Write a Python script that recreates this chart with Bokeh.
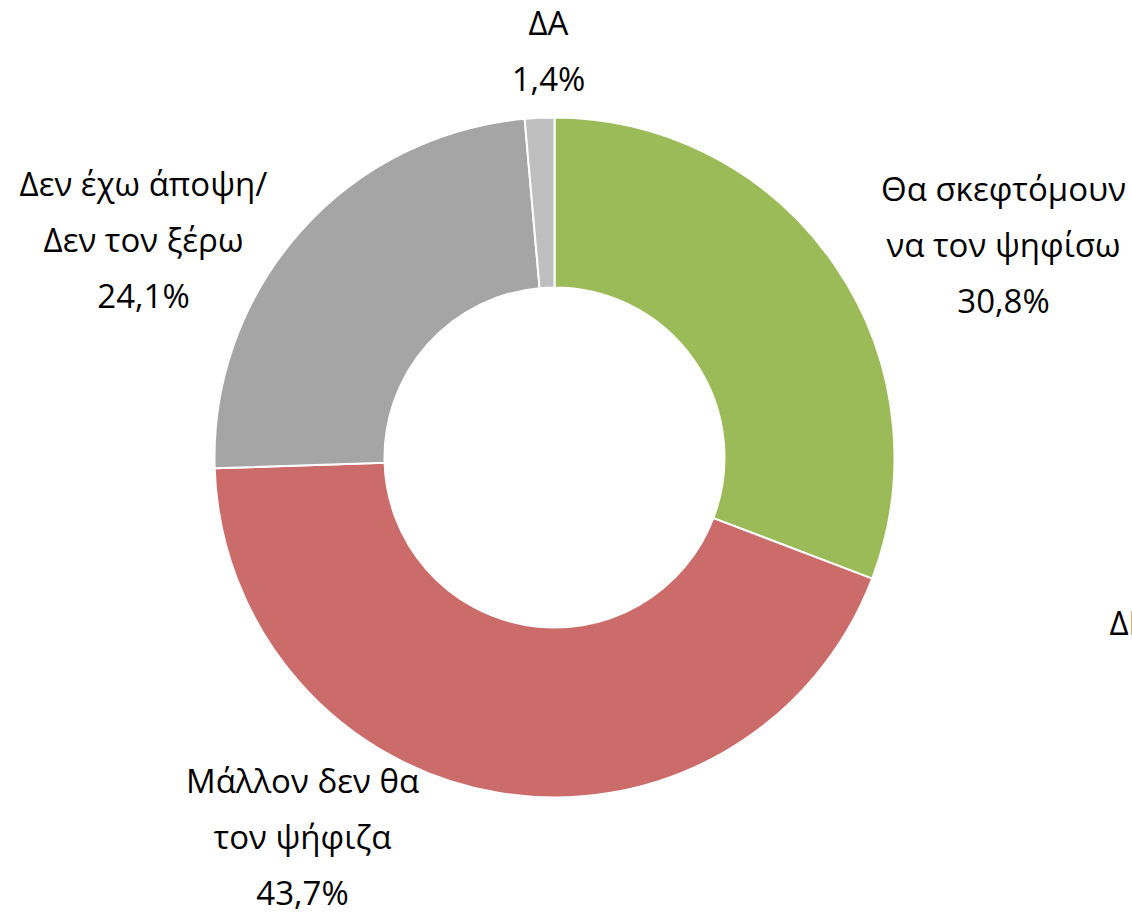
import math
from bokeh.plotting import figure
from bokeh.models import Range1d, ColumnDataSource
from bokeh.core.properties import value
from bokeh.embed import file_html
from bokeh.resources import INLINE

# ---- data ----
categories = ["Θα σκεφτόμουν να τον ψηφίσω", "Μάλλον δεν θα τον ψήφιζα",
              "Δεν έχω άποψη/ Δεν τον ξέρω", "ΔΑ"]
values = [30.8, 43.7, 24.1, 1.4]
pct_labels = ["30,8%", "43,7%", "24,1%", "1,4%"]
name_lines = [["Θα σκεφτόμουν", "να τον ψηφίσω"],
              ["Μάλλον δεν θα", "τον ψήφιζα"],
              ["Δεν έχω άποψη/", "Δεν τον ξέρω"],
              ["ΔΑ"]]
colors = ["#9BBB59", "#CB6C6A", "#A5A5A5", "#BFBFBF"]

# ---- layout (picture-pixel coordinates) ----
W, H = 1132, 912
CX, CY = 554, 457
R_OUT, R_IN = 340, 170
# label anchor (center x, first line center y)
label_pos = [(1003, 188), (302, 780), (143, 183), (548, 22)]
LINE_GAP = 56

def sy(y):
    return H - y

p = figure(width=W, height=H, output_backend="svg", toolbar_location=None,
           x_range=Range1d(0, W), y_range=Range1d(0, H),
           x_axis_location=None, y_axis_location=None, min_border=0)
p.grid.visible = False
p.outline_line_color = None
p.background_fill_color = "white"
p.border_fill_color = "white"

total = sum(values)
starts, ends = [], []
cum = 0.0
for v in values:
    a0 = math.pi / 2 - 2 * math.pi * cum / total
    cum += v
    a1 = math.pi / 2 - 2 * math.pi * cum / total
    starts.append(a0)
    ends.append(a1)

src = ColumnDataSource(dict(x=[CX] * len(values), y=[sy(CY)] * len(values),
                            start=starts, end=ends, color=colors, cat=categories))
p.annular_wedge(x="x", y="y", inner_radius=R_IN, outer_radius=R_OUT,
                inner_radius_units="screen", outer_radius_units="screen",
                start_angle="start", end_angle="end", direction="clock",
                fill_color="color", line_color="white", line_width=2, source=src)

tx, ty, tt = [], [], []
for (lx, ly), lines, pl in zip(label_pos, name_lines, pct_labels):
    for i, ln in enumerate(lines + [pl]):
        tx.append(lx)
        ty.append(sy(ly + i * LINE_GAP))
        tt.append(ln)

p.text(x=tx, y=ty, text=tt, text_align="center", text_baseline="middle",
       text_font=value("Open Sans"), text_font_size="33px", text_color="#000000")

# partially visible label of the neighbouring chart at the right edge
p.text(x=[1109], y=[sy(622)], text=["ΔΕ"], text_align="left", text_baseline="middle",
       text_font=value("Open Sans"), text_font_size="33px", text_color="#000000")

open("out.html", "w").write(file_html(p, INLINE))
